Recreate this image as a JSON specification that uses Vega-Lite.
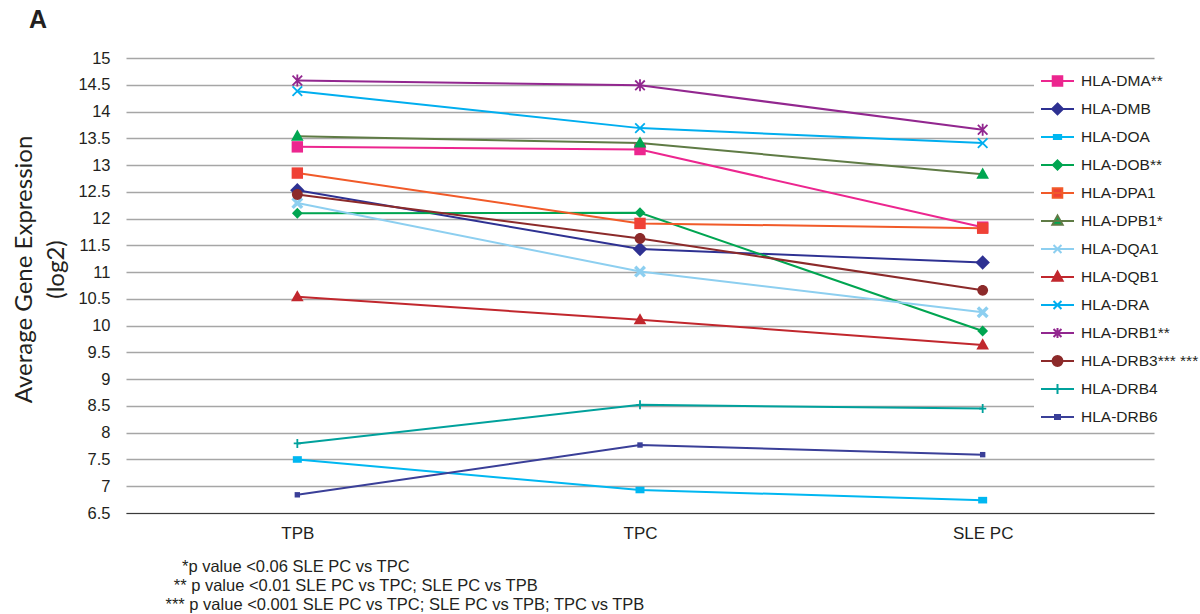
{
  "$schema": "https://vega.github.io/schema/vega-lite/v6.json",
  "width": 1028,
  "height": 455,
  "padding": {"left": 12, "top": 8, "right": 0, "bottom": 0},
  "background": "white",
  "title": {"text": "A", "anchor": "start", "frame": "bounds", "fontSize": 25, "fontWeight": "bold", "font": "Liberation Sans", "color": "#231F20", "dx": 16, "offset": 17},
  "config": {"view": {"stroke": null}, "font": "Liberation Sans"},
  "data": {"values": [
    {"gene": "HLA-DMA**", "group": "TPB", "value": 13.34},
    {"gene": "HLA-DMA**", "group": "TPC", "value": 13.29},
    {"gene": "HLA-DMA**", "group": "SLE PC", "value": 11.84},
    {"gene": "HLA-DMB", "group": "TPB", "value": 12.53},
    {"gene": "HLA-DMB", "group": "TPC", "value": 11.43},
    {"gene": "HLA-DMB", "group": "SLE PC", "value": 11.18},
    {"gene": "HLA-DOA", "group": "TPB", "value": 7.5},
    {"gene": "HLA-DOA", "group": "TPC", "value": 6.93},
    {"gene": "HLA-DOA", "group": "SLE PC", "value": 6.74},
    {"gene": "HLA-DOB**", "group": "TPB", "value": 12.1},
    {"gene": "HLA-DOB**", "group": "TPC", "value": 12.11},
    {"gene": "HLA-DOB**", "group": "SLE PC", "value": 9.9},
    {"gene": "HLA-DPA1", "group": "TPB", "value": 12.85},
    {"gene": "HLA-DPA1", "group": "TPC", "value": 11.91},
    {"gene": "HLA-DPA1", "group": "SLE PC", "value": 11.82},
    {"gene": "HLA-DPB1*", "group": "TPB", "value": 13.54},
    {"gene": "HLA-DPB1*", "group": "TPC", "value": 13.41},
    {"gene": "HLA-DPB1*", "group": "SLE PC", "value": 12.83},
    {"gene": "HLA-DQA1", "group": "TPB", "value": 12.29},
    {"gene": "HLA-DQA1", "group": "TPC", "value": 11.01},
    {"gene": "HLA-DQA1", "group": "SLE PC", "value": 10.25},
    {"gene": "HLA-DQB1", "group": "TPB", "value": 10.54},
    {"gene": "HLA-DQB1", "group": "TPC", "value": 10.11},
    {"gene": "HLA-DQB1", "group": "SLE PC", "value": 9.64},
    {"gene": "HLA-DRA", "group": "TPB", "value": 14.38},
    {"gene": "HLA-DRA", "group": "TPC", "value": 13.69},
    {"gene": "HLA-DRA", "group": "SLE PC", "value": 13.41},
    {"gene": "HLA-DRB1**", "group": "TPB", "value": 14.58},
    {"gene": "HLA-DRB1**", "group": "TPC", "value": 14.49},
    {"gene": "HLA-DRB1**", "group": "SLE PC", "value": 13.66},
    {"gene": "HLA-DRB3*** ***", "group": "TPB", "value": 12.45},
    {"gene": "HLA-DRB3*** ***", "group": "TPC", "value": 11.63},
    {"gene": "HLA-DRB3*** ***", "group": "SLE PC", "value": 10.66},
    {"gene": "HLA-DRB4", "group": "TPB", "value": 7.8},
    {"gene": "HLA-DRB4", "group": "TPC", "value": 8.52},
    {"gene": "HLA-DRB4", "group": "SLE PC", "value": 8.45},
    {"gene": "HLA-DRB6", "group": "TPB", "value": 6.84},
    {"gene": "HLA-DRB6", "group": "TPC", "value": 7.77},
    {"gene": "HLA-DRB6", "group": "SLE PC", "value": 7.59}
  ]},
  "encoding": {
    "x": {"field": "group", "type": "nominal", "scale": {"type": "point", "padding": 0.5, "domain": ["TPB", "TPC", "SLE PC"]},
      "axis": {"labelAngle": 0, "labelFontSize": 17, "labelColor": "#231F20", "labelPadding": 12, "ticks": false, "domainColor": "#3a3a3a", "domainWidth": 1.2, "grid": false,
        "title": ["\u200b\u2002\u2002*p value <0.06 SLE PC vs TPC", "\u200b\u2002** p value <0.01 SLE PC vs TPC; SLE PC vs TPB", "*** p value <0.001 SLE PC vs TPC; SLE PC vs TPB; TPC vs TPB"],
        "titleFontSize": 16.5, "titleFontWeight": "normal", "titleColor": "#231F20", "titleAnchor": "start", "titleAlign": "left", "titleX": 39, "titleLineHeight": 19, "titlePadding": 17}},
    "y": {"field": "value", "type": "quantitative", "scale": {"domain": [6.5, 15], "zero": false, "nice": false},
      "axis": {"values": [6.5, 7, 7.5, 8, 8.5, 9, 9.5, 10, 10.5, 11, 11.5, 12, 12.5, 13, 13.5, 14, 14.5, 15], "format": "~g", "labelFontSize": 16.5, "labelColor": "#231F20", "labelPadding": 16, "ticks": false, "domain": false, "gridColor": "#A6A6A6", "gridWidth": 1.5,
        "title": ["Average Gene Expression", "(log2)"], "titleFont": "Lato", "titleFontSize": 24, "titleFontWeight": "normal", "titleColor": "#231F20", "titleLineHeight": 32, "titlePadding": 9, "titleY": 211}}
  },
  "layer": [
    {
      "mark": {"type": "line"},
      "encoding": {
        "order": {"value": null},
        "color": {"field": "gene", "type": "nominal",
          "scale": {"domain": ["HLA-DMA**", "HLA-DMB", "HLA-DOA", "HLA-DOB**", "HLA-DPA1", "HLA-DPB1*", "HLA-DQA1", "HLA-DQB1", "HLA-DRA", "HLA-DRB1**", "HLA-DRB3*** ***", "HLA-DRB4", "HLA-DRB6"],
            "range": ["#EC268F", "#2E3192", "#00B7F1", "#00A551", "#F15A29", "#5F7B45", "#8DCFF0", "#C1272D", "#00AEEF", "#92278F", "#8C2A2A", "#00A19C", "#3A3F98"]},
          "legend": {"title": null, "orient": "none", "legendX": 908, "legendY": 8, "fillColor": "white", "padding": 6,
            "symbolSize": 1089, "clipHeight": 18, "rowPadding": 10, "labelFontSize": 15.5, "labelColor": "#231F20", "labelFont": "Liberation Sans", "labelOffset": 6, "labelLimit": 300,
            "encode": {"symbols": {"update": {
              "shape": {"signal": "['M-1,0H1M-0.29,-0.29H0.29V0.29H-0.29Z', 'M-1,0H1M0,-0.33L0.33,0L0,0.33L-0.33,0Z', 'M-1,0H1M-0.22,-0.12H0.22V0.12H-0.22Z', 'M-1,0H1M0,-0.28L0.28,0L0,0.28L-0.28,0Z', 'M-1,0H1M-0.29,-0.29H0.29V0.29H-0.29Z', 'M-1,0H1M0,-0.33L0.31,0.22H-0.31Z', 'M-1,0H1M-0.24,-0.24L0.24,0.24M-0.24,0.24L0.24,-0.24', 'M-1,0H1M0,-0.33L0.31,0.22H-0.31Z', 'M-1,0H1M-0.24,-0.24L0.24,0.24M-0.24,0.24L0.24,-0.24', 'M-1,0H1M-0.24,-0.24L0.24,0.24M-0.24,0.24L0.24,-0.24M0,-0.3V0.3', 'M-1,0H1M-0.3,0A0.3,0.3,0,1,1,0.3,0A0.3,0.3,0,1,1,-0.3,0Z', 'M-1,0H1M0,-0.3V0.3', 'M-1,0H1M-0.15,-0.12H0.15V0.12H-0.15Z'][datum.index]"},
              "fill": {"signal": "['#EC268F', '#2E3192', '#00B7F1', '#00A551', '#EF4136', '#00A651', '#8DCFF0', '#C1272D', '#00AEEF', '#92278F', '#8C2A2A', '#00A19C', '#3A3F98'][datum.index]"},
              "strokeWidth": {"value": 2},
              "size": {"value": 1089},
              "opacity": {"value": 1},
              "fillOpacity": {"value": 1},
              "strokeOpacity": {"value": 1}
            }}}
          }},
        "strokeWidth": {"field": "gene", "type": "ordinal",
          "scale": {"domain": ["HLA-DMA**", "HLA-DMB", "HLA-DOA", "HLA-DOB**", "HLA-DPA1", "HLA-DPB1*", "HLA-DQA1", "HLA-DQB1", "HLA-DRA", "HLA-DRB1**", "HLA-DRB3*** ***", "HLA-DRB4", "HLA-DRB6"],
            "range": [2, 2, 3, 2, 2, 2, 3, 2.5, 3, 2, 2, 3, 2.5]}, "legend": null}
      }
    },
    {
      "mark": {"type": "point", "filled": true, "size": 144, "strokeWidth": 1.8, "opacity": 1},
      "encoding": {
        "fill": {"field": "gene", "type": "nominal", "legend": null,
          "scale": {"domain": ["HLA-DRB6", "HLA-DRB4", "HLA-DRB3*** ***", "HLA-DRB1**", "HLA-DRA", "HLA-DQB1", "HLA-DQA1", "HLA-DPB1*", "HLA-DPA1", "HLA-DOB**", "HLA-DOA", "HLA-DMB", "HLA-DMA**"],
            "range": ["#3A3F98", "#00A19C", "#8C2A2A", "#92278F", "#00AEEF", "#C1272D", "#8DCFF0", "#00A651", "#EF4136", "#00A551", "#00B7F1", "#2E3192", "#EC268F"]}},
        "stroke": {"field": "gene", "type": "nominal", "legend": null,
          "scale": {"domain": ["HLA-DRB6", "HLA-DRB4", "HLA-DRB3*** ***", "HLA-DRB1**", "HLA-DRA", "HLA-DQB1", "HLA-DQA1", "HLA-DPB1*", "HLA-DPA1", "HLA-DOB**", "HLA-DOA", "HLA-DMB", "HLA-DMA**"],
            "range": ["transparent", "#00A19C", "transparent", "#92278F", "#00AEEF", "transparent", "transparent", "transparent", "transparent", "transparent", "transparent", "transparent", "transparent"]}},
        "shape": {"field": "gene", "type": "nominal", "legend": null,
          "scale": {"domain": ["HLA-DRB6", "HLA-DRB4", "HLA-DRB3*** ***", "HLA-DRB1**", "HLA-DRA", "HLA-DQB1", "HLA-DQA1", "HLA-DPB1*", "HLA-DPA1", "HLA-DOB**", "HLA-DOA", "HLA-DMB", "HLA-DMA**"],
            "range": ["M-0.45,-0.45H0.45V0.45H-0.45Z", "M0,-0.75V0.75M-0.6,0H0.6", "M-0.9,0A0.9,0.9,0,1,1,0.9,0A0.9,0.9,0,1,1,-0.9,0Z", "M-0.8,-0.8L0.8,0.8M-0.8,0.8L0.8,-0.8M0,-1V1", "M-0.8,-0.8L0.8,0.8M-0.8,0.8L0.8,-0.8", "M0,-1.1L1.05,0.75H-1.05Z", "M-1,-0.6L-0.6,-1L0,-0.4L0.6,-1L1,-0.6L0.4,0L1,0.6L0.6,1L0,0.4L-0.6,1L-1,0.6L-0.4,0Z", "M0,-1.1L1.05,0.75H-1.05Z", "M-0.95,-0.95H0.95V0.95H-0.95Z", "M0,-0.9L0.9,0L0,0.9L-0.9,0Z", "M-0.75,-0.55H0.75V0.55H-0.75Z", "M0,-1.2L1.2,0L0,1.2L-1.2,0Z", "M-0.95,-0.95H0.95V0.95H-0.95Z"]}}
      }
    }
  ]
}
